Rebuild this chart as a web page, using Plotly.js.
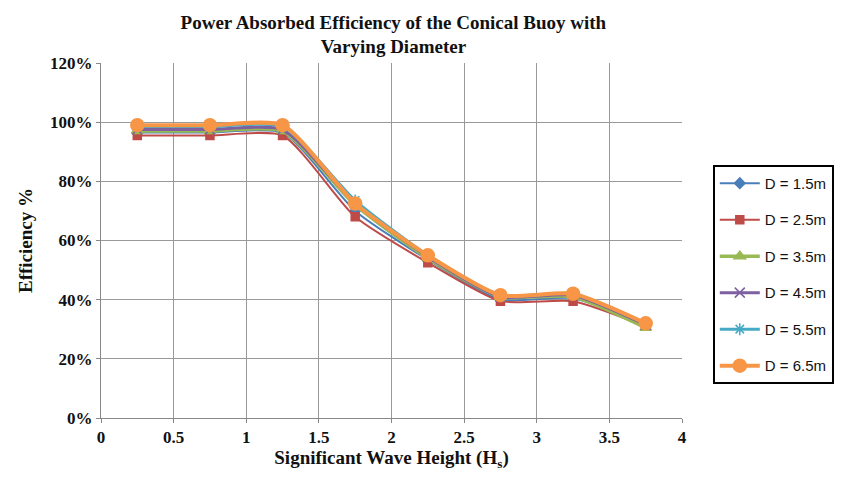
<!DOCTYPE html>
<html><head><meta charset="utf-8">
<script src="https://cdn.plot.ly/plotly-3.0.1.min.js"></script>
<style>body{margin:0;background:#fff}#chart{width:846px;height:479px}</style>
</head><body><div id="chart"></div>
<script>
const waveHeight = [0.25, 0.75, 1.25, 1.75, 2.25, 2.75, 3.25, 3.75];
const seriesNames = ["D = 1.5m", "D = 2.5m", "D = 3.5m", "D = 4.5m", "D = 5.5m", "D = 6.5m"];
const effD15 = [0.965, 0.965, 0.965, 0.70, 0.535, 0.400, 0.405, 0.315];
const effD25 = [0.955, 0.955, 0.955, 0.680, 0.525, 0.395, 0.395, 0.310];
const effD35 = [0.970, 0.970, 0.970, 0.720, 0.540, 0.410, 0.410, 0.305];
const effD45 = [0.975, 0.975, 0.975, 0.725, 0.545, 0.410, 0.415, 0.315];
const effD55 = [0.985, 0.985, 0.985, 0.735, 0.550, 0.415, 0.420, 0.320];
const effD65 = [0.990, 0.990, 0.990, 0.725, 0.550, 0.415, 0.420, 0.320];
const seriesValues = [effD15, effD25, effD35, effD45, effD55, effD65];
const colors = ["#4A7EBB", "#BE4B48", "#98B954", "#7D60A0", "#46AAC5", "#F79646"];
const symbols = ["diamond", "square", "triangle-up", "x-thin-open", "asterisk-open", "circle"];
const msizes = [8, 8, 10, 10, 10, 13];
const lwidths = [2, 2, 3.5, 3, 3, 4];

const traces = seriesValues.map((vals, i) => ({
  x: waveHeight, y: vals, name: seriesNames[i], type: "scatter", mode: "lines+markers",
  legendgroup: "g" + i,
  line: {color: colors[i], width: lwidths[i], shape: "spline", smoothing: 0.6},
  marker: {color: colors[i], symbol: symbols[i], size: msizes[i], line: {color: colors[i], width: 1.5}}
}));

const serif = "Liberation Serif, Times New Roman, serif";
Plotly.newPlot("chart", traces, {
  width: 846, height: 479,
  margin: {l: 101, r: 158, t: 63, b: 61},
  paper_bgcolor: "#fff", plot_bgcolor: "#fff",
  title: {text: "<b>Power Absorbed Efficiency of the Conical Buoy with<br>Varying Diameter</b>",
          x: 0.465, xanchor: "center", y: 0.94, yanchor: "middle",
          font: {family: serif, size: 19, color: "#111"}},
  xaxis: {range: [0, 4], dtick: 0.5, tick0: 0, showgrid: true, gridcolor: "#9a9a9a", gridwidth: 1,
          zeroline: false, showline: true, linecolor: "#888", ticks: "outside", ticklen: 4, tickcolor: "#888",
          tickfont: {family: serif, size: 17, color: "#111", weight: "bold"}, tickformat: "~g",
          title: {text: "<b>Significant Wave Height (H<sub>s</sub>)</b>", font: {family: serif, size: 19, color: "#111"}, standoff: 4}},
  yaxis: {range: [0, 1.2], dtick: 0.2, tickformat: ".0%", showgrid: true, gridcolor: "#9a9a9a", gridwidth: 1,
          zeroline: false, showline: true, linecolor: "#888", ticks: "outside", ticklen: 4, tickcolor: "#888",
          tickfont: {family: serif, size: 17, color: "#111", weight: "bold"},
          title: {text: "<b>Efficiency %</b>", font: {family: serif, size: 19, color: "#111"}, standoff: 12}},
  legend: {x: 1.053, xanchor: "left", y: 0.713, yanchor: "top", bordercolor: "#000", borderwidth: 2,
           bgcolor: "#fff", font: {family: "Liberation Sans, Arial, sans-serif", size: 15, color: "#111"},
           tracegroupgap: 14, itemwidth: 40},
  showlegend: true
}, {displayModeBar: false, staticPlot: true});
</script></body></html>
